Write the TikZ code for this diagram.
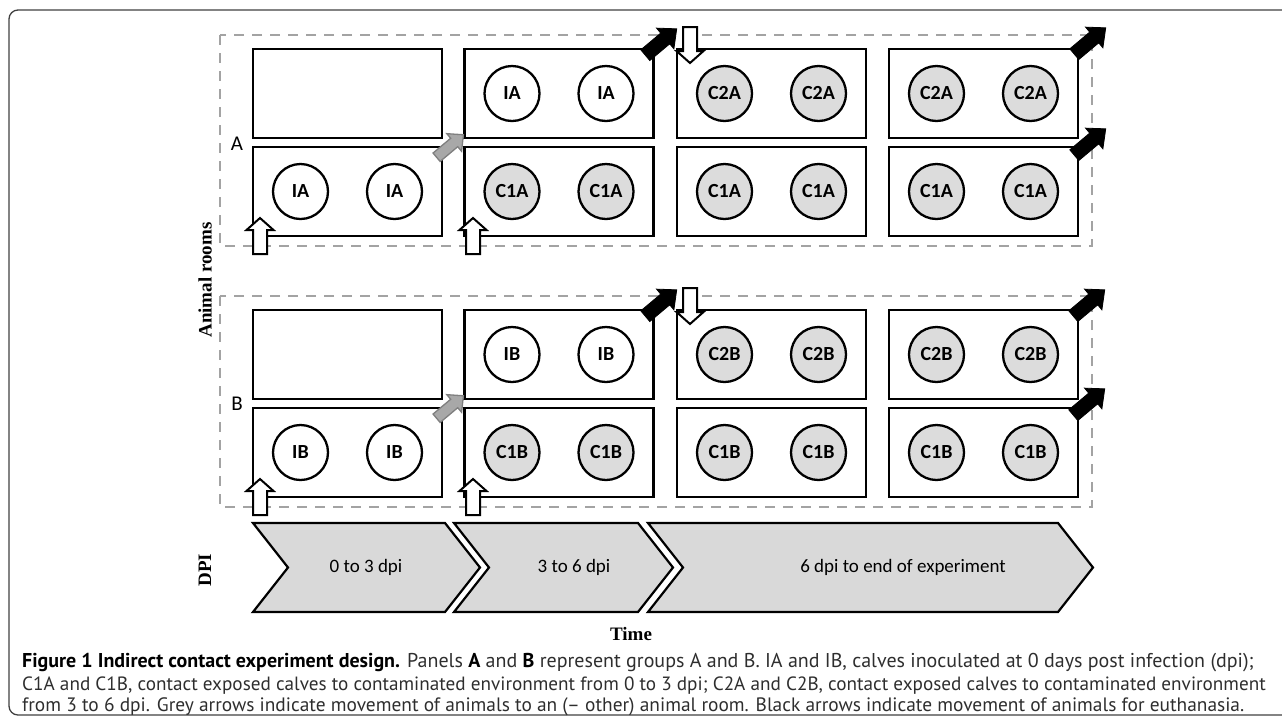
\documentclass[tikz,border=0pt]{standalone}
\usepackage{fontspec}
\setmainfont{Carlito}
\newfontfamily\capfont{PT Sans}
\newfontfamily\serfont{Liberation Serif}
\definecolor{calfgrey}{HTML}{DCDCDC}
\definecolor{chevgrey}{HTML}{D9D9D9}
\definecolor{dashgrey}{HTML}{A3A3A3}
\definecolor{movegrey}{HTML}{A8A8A8}
\definecolor{moveedge}{HTML}{7F7F7F}
\definecolor{frameline}{HTML}{404040}
\definecolor{captext}{HTML}{2E2E2E}
\begin{document}
\begin{tikzpicture}[x=1pt,y=-1pt,
  pics/blockarrow/.style n args={4}{code={
    \path[pic actions] (-#1/2,-#2) -- (#1/2-#4,-#2) -- (#1/2-#4,-#3) -- (#1/2,0)
      -- (#1/2-#4,#3) -- (#1/2-#4,#2) -- (-#1/2,#2) -- cycle;}},
  room/.style={draw=black,line width=2.6pt,minimum width=189pt,minimum height=89pt,inner sep=0pt},
  calf/.style={circle,draw=black,line width=2.3pt,minimum size=55pt,inner sep=0pt,font=\fontsize{20}{20}\selectfont\bfseries},
  calfI/.style={calf,fill=white},
  calfC/.style={calf,fill=calfgrey},
  group/.style={draw=dashgrey,line width=2.4pt,dash pattern=on 10pt off 8pt},
  inarrow/.style={draw=black,fill=white,line width=2pt,line join=miter},
  outarrow/.style={draw=black,fill=black,line width=0.8pt,line join=miter,rotate=40},
  movearrow/.style={draw=moveedge,fill=movegrey,line width=1.3pt,line join=miter,rotate=40},
  chev/.style={draw=black,fill=chevgrey,line width=2.2pt,line join=miter},
  chevtext/.style={font=\fontsize{19}{19}\selectfont},
  axislab/.style={font=\serfont\bfseries\fontsize{19}{19}\selectfont},
  grplab/.style={font=\fontsize{21}{21}\selectfont},
  capline/.style={anchor=base west,inner sep=0pt,text=captext},
]
\useasboundingbox (0,0) rectangle (1282,716);
% outer frame
\draw[frameline,line width=1.3pt,rounded corners=9pt] (1300,10) -- (9,10) -- (9,715) -- (1300,715);
% group frames
\draw[group] (220,35) rectangle (1092,246);
\draw[group] (220,296) rectangle (1092,507);
\node[grplab] (labA) at (237,144) {A};
\node[grplab] (labB) at (237,404) {B};
% rooms group A
\node[room] (A1t) at (347.5,93.5) {};
\node[room] (A1b) at (347.5,191.5) {};
\node[room] (A2t) at (559,93.5) {};
\node[room] (A2b) at (559,191.5) {};
\node[room] (A3t) at (771.5,93.5) {};
\node[room] (A3b) at (771.5,191.5) {};
\node[room] (A4t) at (983.5,93.5) {};
\node[room] (A4b) at (983.5,191.5) {};
% rooms group B
\node[room] (B1t) at (347.5,354.5) {};
\node[room] (B1b) at (347.5,452.5) {};
\node[room] (B2t) at (559,354.5) {};
\node[room] (B2b) at (559,452.5) {};
\node[room] (B3t) at (771.5,354.5) {};
\node[room] (B3b) at (771.5,452.5) {};
\node[room] (B4t) at (983.5,354.5) {};
\node[room] (B4b) at (983.5,452.5) {};
% calves group A
\node[calfI,xshift=-47pt] (a1b1) at (A1b.center) {IA};
\node[calfI,xshift=47pt] (a1b2) at (A1b.center) {IA};
\node[calfI,xshift=-47pt] (a2t1) at (A2t.center) {IA};
\node[calfI,xshift=47pt] (a2t2) at (A2t.center) {IA};
\node[calfC,xshift=-47pt] (a2b1) at (A2b.center) {C1A};
\node[calfC,xshift=47pt] (a2b2) at (A2b.center) {C1A};
\node[calfC,xshift=-47pt] (a3t1) at (A3t.center) {C2A};
\node[calfC,xshift=47pt] (a3t2) at (A3t.center) {C2A};
\node[calfC,xshift=-47pt] (a3b1) at (A3b.center) {C1A};
\node[calfC,xshift=47pt] (a3b2) at (A3b.center) {C1A};
\node[calfC,xshift=-47pt] (a4t1) at (A4t.center) {C2A};
\node[calfC,xshift=47pt] (a4t2) at (A4t.center) {C2A};
\node[calfC,xshift=-47pt] (a4b1) at (A4b.center) {C1A};
\node[calfC,xshift=47pt] (a4b2) at (A4b.center) {C1A};
% calves group B
\node[calfI,xshift=-47pt] (b1b1) at (B1b.center) {IB};
\node[calfI,xshift=47pt] (b1b2) at (B1b.center) {IB};
\node[calfI,xshift=-47pt] (b2t1) at (B2t.center) {IB};
\node[calfI,xshift=47pt] (b2t2) at (B2t.center) {IB};
\node[calfC,xshift=-47pt] (b2b1) at (B2b.center) {C1B};
\node[calfC,xshift=47pt] (b2b2) at (B2b.center) {C1B};
\node[calfC,xshift=-47pt] (b3t1) at (B3t.center) {C2B};
\node[calfC,xshift=47pt] (b3t2) at (B3t.center) {C2B};
\node[calfC,xshift=-47pt] (b3b1) at (B3b.center) {C1B};
\node[calfC,xshift=47pt] (b3b2) at (B3b.center) {C1B};
\node[calfC,xshift=-47pt] (b4t1) at (B4t.center) {C2B};
\node[calfC,xshift=47pt] (b4t2) at (B4t.center) {C2B};
\node[calfC,xshift=-47pt] (b4b1) at (B4b.center) {C1B};
\node[calfC,xshift=47pt] (b4b2) at (B4b.center) {C1B};
% entry arrows (white)
\pic[inarrow,rotate=90] (inA1) at (260,236) {blockarrow={36}{7}{13.5}{12}};
\pic[inarrow,rotate=90] (inA2) at (473,236) {blockarrow={36}{7}{13.5}{12}};
\pic[inarrow,rotate=-90] (inA3) at (690,45) {blockarrow={36}{7}{13.5}{12}};
\pic[inarrow,rotate=90] (inB1) at (260,497) {blockarrow={36}{7}{13.5}{12}};
\pic[inarrow,rotate=90] (inB2) at (473,497) {blockarrow={36}{7}{13.5}{12}};
\pic[inarrow,rotate=-90] (inB3) at (690,306) {blockarrow={36}{7}{13.5}{12}};
% movement arrows (grey)
\pic[movearrow] (mvA) at (450,146) {blockarrow={35}{5.5}{11.5}{12}};
\pic[movearrow] (mvB) at (450,407) {blockarrow={35}{5.5}{11.5}{12}};
% euthanasia arrows (black)
\pic[outarrow] (outA1) at (661,42) {blockarrow={41}{7}{13.5}{15}};
\pic[outarrow] (outA2) at (1090,41) {blockarrow={41}{7}{13.5}{15}};
\pic[outarrow] (outA3) at (1090,142) {blockarrow={41}{7}{13.5}{15}};
\pic[outarrow] (outB1) at (661,303) {blockarrow={41}{7}{13.5}{15}};
\pic[outarrow] (outB2) at (1089,303) {blockarrow={41}{7}{13.5}{15}};
\pic[outarrow] (outB3) at (1089,402) {blockarrow={41}{7}{13.5}{15}};
% timeline chevrons
\draw[chev] (253,523) -- (445,523) -- (480,567.5) -- (445,612) -- (253,612) -- (288,567.5) -- cycle;
\draw[chev] (454,523) -- (638,523) -- (673,567.5) -- (638,612) -- (454,612) -- (489,567.5) -- cycle;
\draw[chev] (648,523) -- (1058,523) -- (1093,567.5) -- (1058,612) -- (648,612) -- (683,567.5) -- cycle;
\node[chevtext] (t1) at (366,567.5) {0 to 3 dpi};
\node[chevtext] (t2) at (574,567.5) {3 to 6 dpi};
\node[chevtext] (t3) at (903,567.5) {6 dpi to end of experiment};
% axis labels
\node[axislab,rotate=90] (ylab) at (205,280) {Animal rooms};
\node[axislab,rotate=90] (dpilab) at (205,570) {DPI};
\node[axislab] (xlab) at (631,634) {Time};
% caption
\node[capline,font=\capfont\fontsize{20}{20}\selectfont] (cap1) at (22,667) {\textbf{\color{black}Figure 1 Indirect contact experiment design.} Panels \textbf{\color{black}A} and \textbf{\color{black}B} represent groups A and B. IA and IB, calves inoculated at 0 days post infection (dpi);};
\node[capline,font=\capfont\fontsize{19.2}{19.2}\selectfont] (cap2) at (22,690) {C1A and C1B, contact exposed calves to contaminated environment from 0 to 3 dpi; C2A and C2B, contact exposed calves to contaminated environment};
\node[capline,font=\capfont\fontsize{19.4}{19.4}\selectfont] (cap3) at (22,711) {from 3 to 6 dpi. Grey arrows indicate movement of animals to an (– other) animal room. Black arrows indicate movement of animals for euthanasia.};
\end{tikzpicture}
\end{document}
